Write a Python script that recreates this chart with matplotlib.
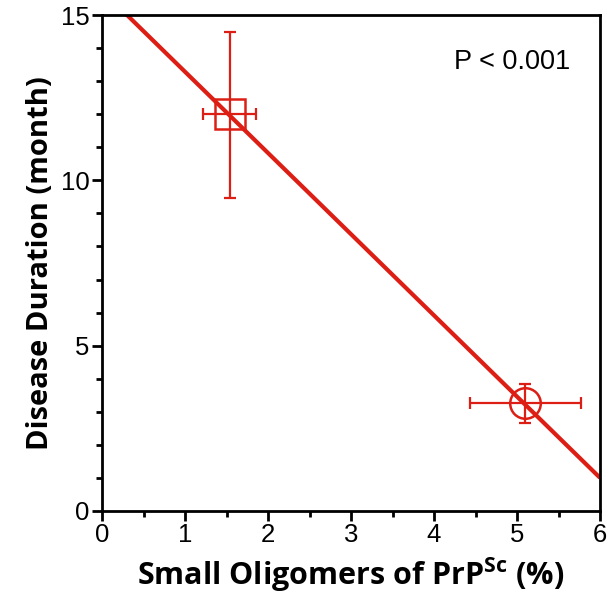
import matplotlib
matplotlib.use("Agg")
import matplotlib.pyplot as plt
import numpy as np
from matplotlib.ticker import MultipleLocator

plt.rcParams["mathtext.fontset"] = "custom"
plt.rcParams["mathtext.bf"] = "Open Sans:bold"
plt.rcParams["mathtext.rm"] = "Open Sans"

# group means and error bars
oligomer_pct = [1.54, 5.10]
oligomer_lo = [1.22, 4.43]
oligomer_hi = [1.86, 5.77]
duration = [12.0, 3.26]
duration_lo = [9.46, 2.65]
duration_hi = [14.5, 3.84]
markers = ["s", "o"]

# regression line
slope = -2.456
intercept = 15.74

red = "#dc1e14"

fig = plt.figure(figsize=(6.14, 6.08), dpi=100)
ax = fig.add_axes([102 / 614, 1 - 511 / 608, 498 / 614, 496 / 608])

xs = np.linspace(0, 6, 200)
ax.plot(xs, intercept + slope * xs, color=red, lw=3, solid_capstyle="butt", zorder=2)

for i in range(len(oligomer_pct)):
    x, y = oligomer_pct[i], duration[i]
    xerr = [[x - oligomer_lo[i]], [oligomer_hi[i] - x]]
    yerr = [[y - duration_lo[i]], [duration_hi[i] - y]]
    ax.errorbar([x], [y], xerr=xerr, yerr=yerr, fmt="none", ecolor=red,
                elinewidth=1.6, capsize=4, capthick=1.6, zorder=3)
    ax.plot([x], [y], marker=markers[i], ms=22, mfc="none", mec=red, mew=1.8,
            linestyle="none", zorder=4)

ax.set_xlim(0, 6)
ax.set_ylim(0, 15)
ax.xaxis.set_major_locator(MultipleLocator(1))
ax.xaxis.set_minor_locator(MultipleLocator(0.5))
ax.yaxis.set_major_locator(MultipleLocator(5))
ax.yaxis.set_minor_locator(MultipleLocator(1))
for s in ax.spines.values():
    s.set_linewidth(2)
ax.tick_params(which="both", direction="out", width=2)
ax.tick_params(which="major", length=7, labelsize=18.5, pad=2)
ax.tick_params(which="minor", length=4.5)
for lab in ax.get_xticklabels() + ax.get_yticklabels():
    lab.set_family("Liberation Sans")

ax.text(0.94, 0.905, "P < 0.001", transform=ax.transAxes, ha="right", va="center",
        fontsize=19.5, family="Liberation Sans")

ax.set_xlabel(r"Small Oligomers of PrP$^{\mathbf{Sc}}$ (%)", fontsize=22,
              fontweight="bold", family="Open Sans", labelpad=6)
ax.set_ylabel("Disease Duration (month)", fontsize=21, fontweight="bold",
              family="Open Sans", labelpad=4)

fig.savefig("out.png", dpi=100)
